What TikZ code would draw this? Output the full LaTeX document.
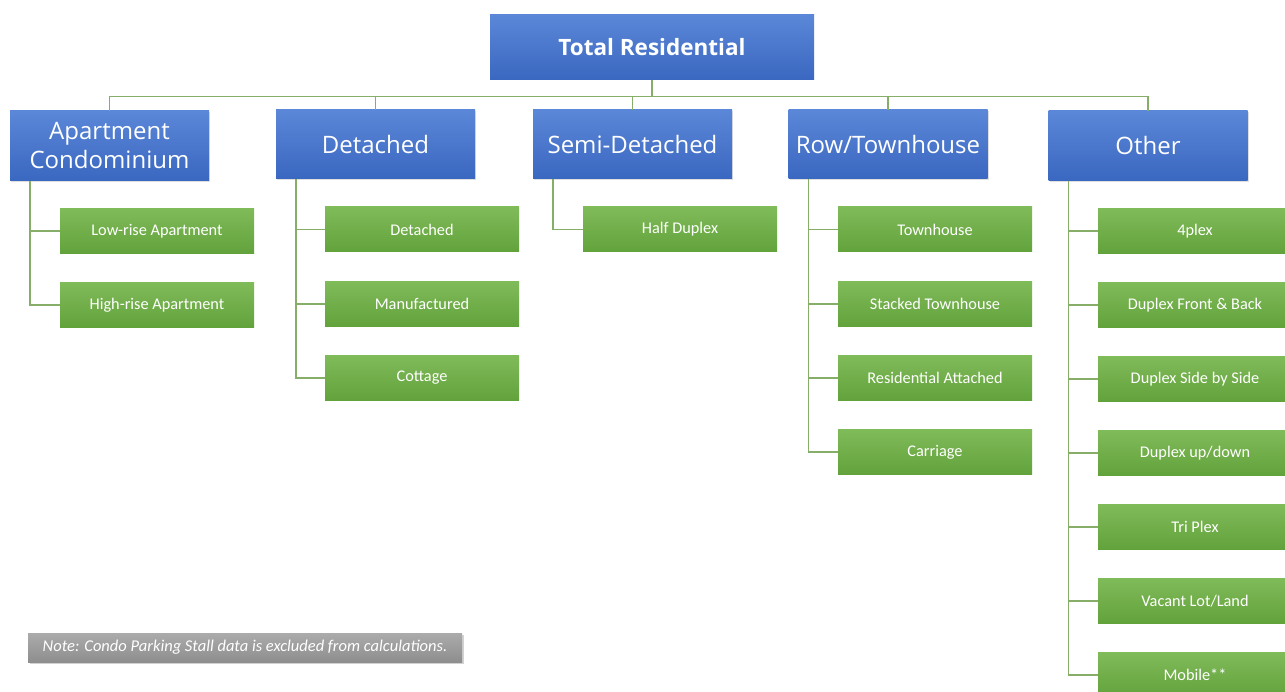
\documentclass[tikz,border=0pt]{standalone}
\usepackage{fontspec}
\setmainfont{Carlito}
\newfontfamily\bluefont{Open Sans}
\usetikzlibrary{shadows}
\definecolor{bluetop}{HTML}{5B87D8}
\definecolor{bluebot}{HTML}{3A67C0}
\definecolor{greentop}{HTML}{80BB5A}
\definecolor{greenbot}{HTML}{62A23B}
\definecolor{conncol}{HTML}{86AE68}
\definecolor{graytop}{HTML}{ABABAB}
\definecolor{graybot}{HTML}{8E8E8E}
\tikzset{
  rootbox/.style={draw=none, top color=bluetop, bottom color=bluebot, minimum width=324pt, minimum height=65pt, inner sep=0pt, text=white, font=\bluefont\bfseries\fontsize{22.5}{27}\selectfont},
  catbox/.style={draw=none, top color=bluetop, bottom color=bluebot, minimum width=199pt, minimum height=69pt, inner sep=0pt, text=white, align=center, font=\bluefont\fontsize{24}{29}\selectfont, drop shadow={opacity=0.25, shadow xshift=1pt, shadow yshift=-1.5pt}},
  leafbox/.style={draw=none, top color=greentop, bottom color=greenbot, minimum width=194pt, minimum height=45pt, inner sep=0pt, text=white, font=\fontsize{16.3}{19}\selectfont},
  notebox/.style={draw=none, top color=graytop, bottom color=graybot, minimum width=434pt, minimum height=29pt, inner sep=0pt, text=white, font=\itshape\fontsize{16.5}{19}\selectfont, drop shadow={opacity=0.35, shadow xshift=1.5pt, shadow yshift=-2pt}},
  conn/.style={draw=conncol, line width=1.4pt},
}
\begin{document}
\begin{tikzpicture}[x=1pt,y=-1pt]
\useasboundingbox (0,0) rectangle (1285,692);
\clip (0,0) rectangle (1285,692);
\fill[white] (0,0) rectangle (1285,692);

\node[rootbox] (root) at (652,47.5) {Total Residential};

\node[catbox, minimum height=70pt] (A) at (109.5,146) {Apartment\\[0pt]Condominium};
\node[catbox] (D) at (375.5,144.5) {Detached};
\node[catbox] (S) at (632.5,144.5) {Semi-Detached};
\node[catbox] (R) at (888,144.5) {Row/Townhouse};
\node[catbox, minimum height=70pt] (O) at (1148,146) {Other};

\coordinate (bus) at (652,96.5);
\foreach \c in {A,D,S,R,O}{
  \draw[conn] (root.south) -- (bus) -| (\c.north);
}

\node[leafbox] (A1) at (157,231) {Low-rise Apartment};
\node[leafbox] (A2) at (157,305) {High-rise Apartment};

\node[leafbox] (D1) at (422,229.5) {Detached};
\node[leafbox] (D2) at (422,304) {Manufactured};
\node[leafbox] (D3) at (422,378) {Cottage};

\node[leafbox] (S1) at (680,229.5) {Half Duplex};

\node[leafbox] (R1) at (935,229.5) {Townhouse};
\node[leafbox] (R2) at (935,304) {Stacked Townhouse};
\node[leafbox] (R3) at (935,378) {Residential Attached};
\node[leafbox] (R4) at (935,452) {Carriage};

\node[leafbox] (O1) at (1195,231) {4plex};
\node[leafbox] (O2) at (1195,305) {Duplex Front \& Back};
\node[leafbox] (O3) at (1195,379) {Duplex Side by Side};
\node[leafbox] (O4) at (1195,453) {Duplex up/down};
\node[leafbox] (O5) at (1195,527) {Tri Plex};
\node[leafbox] (O6) at (1195,601) {Vacant Lot/Land};
\node[leafbox] (O7) at (1195,675) {Mobile**};

\foreach \c/\kids in {A/{A1,A2}, D/{D1,D2,D3}, S/{S1}, R/{R1,R2,R3,R4}, O/{O1,O2,O3,O4,O5,O6,O7}}{
  \foreach \k in \kids {
    \draw[conn] ([xshift=20pt]\c.south west) |- (\k.west);
  }
}

\node[notebox] (note) at (245,647.5) {Note: Condo Parking Stall data is excluded from calculations.};
\end{tikzpicture}
\end{document}
